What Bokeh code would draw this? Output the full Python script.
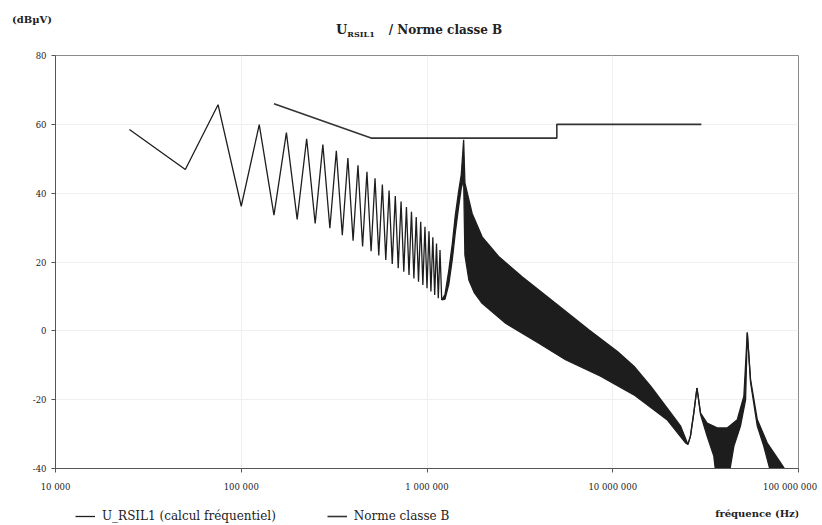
from bokeh.plotting import figure
from bokeh.layouts import column
from bokeh.models import Range1d, FixedTicker, Legend, LegendItem, Div, Label
from bokeh.embed import file_html
from bokeh.resources import INLINE

# ---- data ----
# discrete part of U_RSIL1 (25 kHz steps)
zig_freq = [25000, 50000, 75000, 100000, 125000, 150000, 175000, 200000,
            225000, 250000, 275000, 300000, 325000, 350000, 375000, 400000,
            425000, 450000, 475000, 500000, 525000, 550000, 575000, 600000,
            625000, 650000, 675000, 700000, 725000, 750000, 775000, 800000,
            825000, 850000, 875000, 900000, 925000, 950000, 975000, 1000000,
            1025000, 1050000, 1075000, 1100000, 1125000, 1150000, 1175000, 1200000]
zig_db = [58.5, 46.9, 65.7, 36.2, 59.9, 33.6, 57.6, 32.4,
          55.8, 31.2, 54.1, 29.8, 52.3, 27.8, 50.2, 26.2,
          48.1, 24.5, 46.2, 23.1, 44.3, 21.9, 42.5, 20.6,
          40.8, 19.4, 39.2, 18.2, 37.6, 17.2, 36.0, 16.2,
          34.6, 15.2, 33.1, 14.3, 31.7, 13.3, 30.2, 12.4,
          28.9, 11.4, 27.2, 10.4, 25.4, 9.5, 23.5, 9.0]

# dense part of U_RSIL1: upper envelope (odd harmonics)
up_freq = [1.2e6, 1.25e6, 1.31e6, 1.37e6, 1.42e6, 1.48e6, 1.53e6, 1.575e6,
           1.6e6, 1.75e6, 1.98e6, 2.44e6, 3.25e6, 4.92e6, 7.43e6, 10.6e6,
           13.0e6, 16.0e6, 19.6e6, 23.2e6, 25.4e6, 26.2e6, 27.3e6, 28.4e6,
           29.7e6, 32.2e6, 36.5e6, 41.3e6, 46.8e6, 50.8e6, 53.0e6, 55.2e6,
           60.0e6, 67.9e6, 80.0e6, 87.0e6, 95.0e6]
up_db = [9.0, 10.5, 17.5, 25.5, 33.5, 40.5, 45.5, 55.5,
         43.0, 34.1, 27.3, 21.5, 15.7, 8.0, 0.3, -6.0,
         -10.3, -16.1, -22.4, -27.7, -33.0, -30.6, -23.9, -16.6,
         -23.9, -26.8, -28.2, -28.2, -25.8, -19.0, -0.5, -14.2,
         -25.8, -32.6, -38.3, -41.3, -45.0]

# dense part of U_RSIL1: lower envelope (even harmonics)
lo_freq = [1.2e6, 1.25e6, 1.31e6, 1.37e6, 1.42e6, 1.48e6, 1.53e6, 1.575e6,
           1.6e6, 1.68e6, 1.8e6, 1.98e6, 2.65e6, 4.0e6, 5.57e6, 8.6e6,
           13.0e6, 19.6e6, 24.7e6, 25.4e6, 26.2e6, 27.3e6, 28.4e6, 29.7e6,
           32.2e6, 35.0e6, 36.5e6, 41.3e6, 44.9e6, 48.7e6, 51.9e6, 53.0e6,
           55.2e6, 60.0e6, 65.0e6, 70.6e6, 95.0e6]
lo_db = [9.0, 9.2, 13.5, 21.0, 28.5, 36.0, 41.5, 44.0,
         22.0, 14.8, 11.0, 8.0, 2.2, -3.6, -8.4, -13.2,
         -18.6, -25.8, -32.6, -33.0, -30.6, -23.9, -16.6, -24.3,
         -30.6, -36.4, -45.0, -45.0, -33.5, -27.7, -20.0, -0.5,
         -15.0, -27.7, -33.5, -40.8, -46.0]

# Norme classe B
norm_freq = [150000, 500000, 5000000, 5000000, 30000000]
norm_db = [66, 56, 56, 60, 60]

x_ticks = [1e4, 1e5, 1e6, 1e7, 1e8]
x_tick_labels = ["10 000", "100 000", "1 000 000", "10 000 000", "100 000 000"]
y_ticks = [-40, -20, 0, 20, 40, 60, 80]
y_tick_labels = ["-40", "-20", "0", "20", "40", "60", "80"]

series_names = ["U_RSIL1 (calcul fréquentiel)", "Norme classe B"]
x_title = "fréquence (Hz)"
y_unit = "(dBµV)"

FONT = "DejaVu Serif"
INK = "#1e1e1e"
NORM_INK = "#333333"
TXT = "#222222"
W = 822
BL, BR = 55, 24          # left / right borders shared by chart and bottom strip

# ---- top strip: unit and title (HTML for the subscript) ----
head_html = (
    '<div style="position:relative;width:822px;height:47px;'
    "font-family:'DejaVu Serif';font-weight:bold;color:#222;\">"
    '<span style="position:absolute;left:12px;top:15px;font-size:10px;'
    'line-height:10px;white-space:nowrap;">' + y_unit + '</span>'
    '<span style="position:absolute;left:336px;top:24px;font-size:12px;'
    'line-height:12px;white-space:nowrap;">'
    '<span style="font-size:13px;">U</span>'
    '<span style="font-size:8px;position:relative;top:3px;">RSIL1</span>'
    '<span style="margin-left:14px;">/ Norme classe B</span>'
    '</span></div>'
)
top = Div(text=head_html, width=W, height=47, margin=0)

# ---- main chart ----
p = figure(width=W, height=447, x_axis_type="log",
           x_range=Range1d(1e4, 1e8), y_range=Range1d(-40, 80),
           output_backend="svg", toolbar_location=None,
           min_border_left=BL, min_border_right=BR,
           min_border_top=8, min_border_bottom=25)
p.outline_line_color = "#8a8a8a"
p.outline_line_width = 1
p.background_fill_color = "white"
p.border_fill_color = "white"

p.xaxis.ticker = FixedTicker(ticks=x_ticks, minor_ticks=[])
p.yaxis.ticker = FixedTicker(ticks=y_ticks, minor_ticks=[])
over = {t: s for t, s in zip(x_ticks, x_tick_labels)}
# last label nudged left so that it stays inside the canvas
over[x_ticks[-1]] = x_tick_labels[-1] + "\u00a0" * 2
p.xaxis.major_label_overrides = over
p.yaxis.major_label_overrides = {t: s for t, s in zip(y_ticks, y_tick_labels)}
for ax in (p.xaxis, p.yaxis):
    ax.axis_line_color = "#555555"
    ax.major_tick_line_color = "#555555"
    ax.major_tick_out = 4
    ax.major_tick_in = 0
    ax.minor_tick_line_color = None
    ax.major_label_text_font = FONT
    ax.major_label_text_font_size = "8.5px"
    ax.major_label_text_color = TXT
p.xaxis.major_label_standoff = 9
p.yaxis.major_label_standoff = 5

p.xgrid.grid_line_color = "#efefef"
p.ygrid.grid_line_color = "#efefef"

# dense band between the two envelopes
p.patch(up_freq + lo_freq[::-1], up_db + lo_db[::-1],
        fill_color="#111111", fill_alpha=0.95, line_color=None)
p.line(up_freq, up_db, line_color=INK, line_width=1.3)
p.line(lo_freq, lo_db, line_color=INK, line_width=1.3)
# discrete zigzag
p.line(zig_freq, zig_db, line_color=INK, line_width=1.3)
# norm
p.line(norm_freq, norm_db, line_color=NORM_INK, line_width=1.6)

# ---- bottom strip: legend and x-axis title ----
H_BOT = 31
bot = figure(width=W, height=H_BOT, x_range=Range1d(BL, W - BR), y_range=Range1d(0, H_BOT),
             output_backend="svg", toolbar_location=None,
             x_axis_location=None, y_axis_location=None,
             min_border_left=BL, min_border_right=BR, min_border_top=0, min_border_bottom=0)
bot.xgrid.visible = False
bot.ygrid.visible = False
bot.outline_line_color = None
bot.background_fill_color = "white"
bot.border_fill_color = "white"
# legend keys: same series and styles (their data lie outside this strip's view)
k_u = bot.line(zig_freq, zig_db, line_color=INK, line_width=1.3)
k_n = bot.line(norm_freq, norm_db, line_color=NORM_INK, line_width=1.6)
legend = Legend(items=[LegendItem(label=series_names[0], renderers=[k_u]),
                       LegendItem(label=series_names[1], renderers=[k_n])],
                orientation="horizontal", location=(20, 2),
                padding=0, margin=0, spacing=51, glyph_width=20, glyph_height=12,
                label_height=12, label_standoff=7,
                label_text_font=FONT, label_text_font_size="12px",
                label_text_color=TXT,
                border_line_color=None, background_fill_alpha=0)
bot.add_layout(legend, "center")
bot.add_layout(Label(x=W - BR + 1, y=12, text=x_title, text_font=FONT,
                     text_font_size="10px", text_font_style="bold", text_color=TXT,
                     text_align="right", text_baseline="middle"))

layout = column(top, p, bot, spacing=0)
open("out.html", "w").write(file_html(layout, INLINE))
